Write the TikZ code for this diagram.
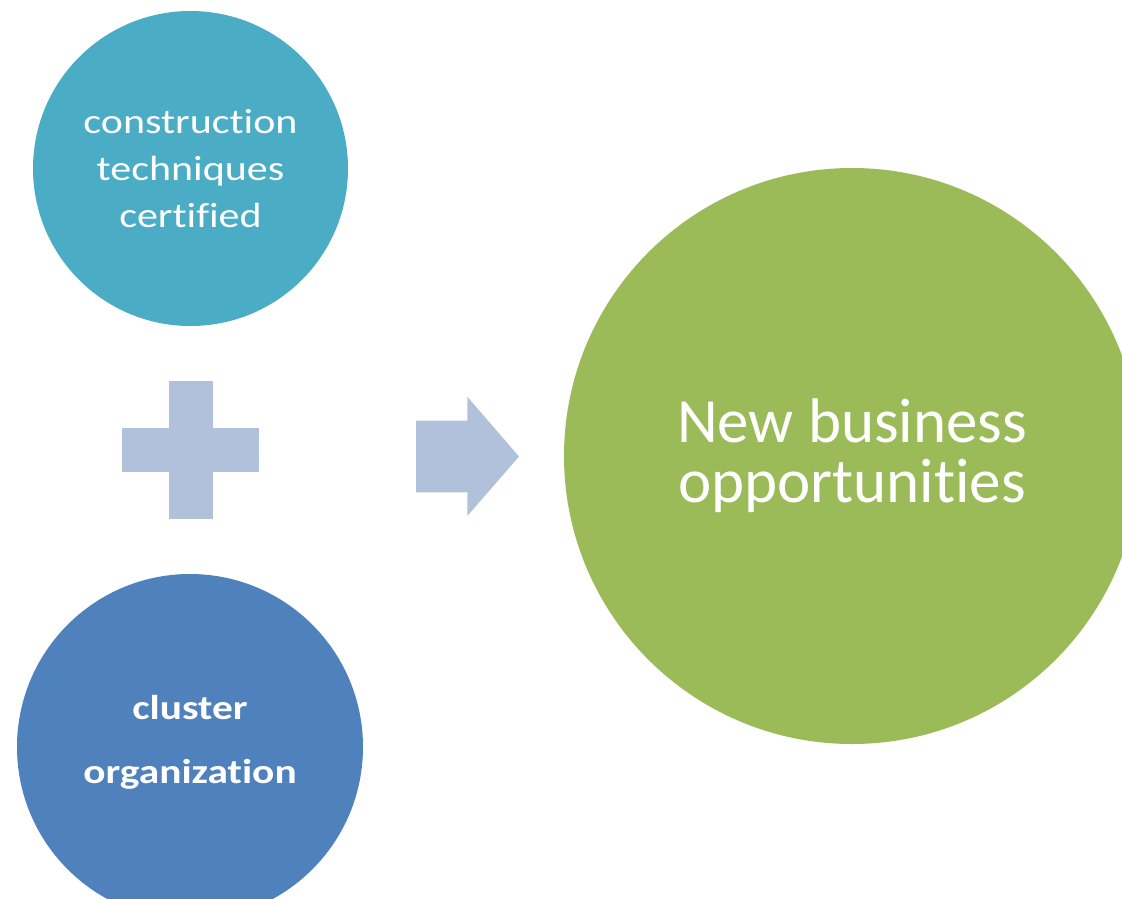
\documentclass[tikz,border=0pt]{standalone}
\usepackage{fontspec}
\setmainfont{Carlito}[Ligatures=CommonOff]
\newfontfamily\widefont[FakeStretch=1.2,Ligatures=CommonOff]{Carlito}
\usepackage{xcolor}
\usetikzlibrary{positioning}

\definecolor{tealfill}{HTML}{4BACC6}
\definecolor{bluefill}{HTML}{4F81BD}
\definecolor{greenfill}{HTML}{9BBB59}
\definecolor{softfill}{HTML}{B2C1DB}

\begin{document}
\begin{tikzpicture}
		[x=1pt,y=-1pt,
		input/.style={circle,fill=tealfill,text=white,inner sep=0pt,minimum size=315pt,align=center,
			font=\widefont\fontsize{35}{47}\selectfont},
		input2/.style={circle,fill=bluefill,text=white,inner sep=0pt,minimum size=346pt,align=center,
			text depth=15pt,font=\widefont\bfseries\fontsize{34.5}{64}\selectfont},
		result/.style={circle,fill=greenfill,text=white,inner sep=0pt,minimum size=576pt,align=center,
			font=\fontsize{63}{60}\selectfont},
		bar/.style={rectangle,fill=softfill,inner sep=0pt}]
		\useasboundingbox (0,0) rectangle (1122,898);

		\node [input] (tech) at (190.5,168.5) {construction\\techniques\\certified};
		\node [input2] (cluster) at (190,747) {cluster\\organization};
		\node [result] (business) at (852,456) {New business\\opportunities};

		% plus sign
		\node [bar,minimum width=137pt,minimum height=44pt] (plush) at (190.7,450) {};
		\node [bar,minimum width=44pt,minimum height=138pt] (plusv) at (plush) {};

		% block arrow
		\coordinate (arr) at (416,456.5);
		\fill [softfill] (arr) ++(0,-35.8) -- ++(51.3,0) -- ++(0,-24) -- (519,456.5)
			-- (467.3,516) -- ++(0,-23.7) -- ++(-51.3,0) -- cycle;

	\end{tikzpicture}
\end{document}
